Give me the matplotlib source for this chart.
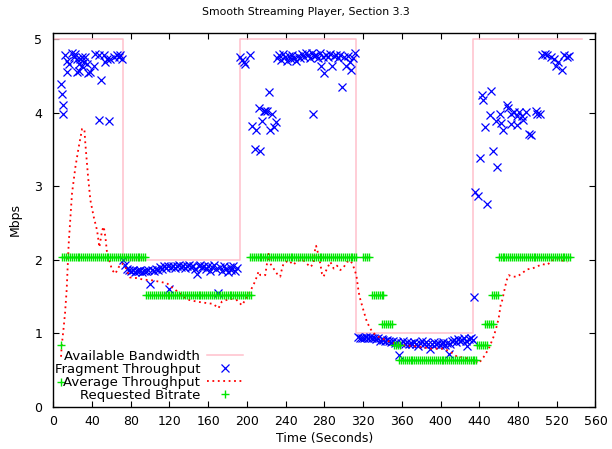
import numpy as np
import matplotlib
matplotlib.use("Agg")
import matplotlib.pyplot as plt

plt.rcParams["font.family"] = ["DejaVu Sans"]

# available bandwidth (step changes), seconds / Mbps
bw_t = [0, 72, 193, 313, 434, 546]
bw_v = [5, 2, 5, 1, 5, 5]

# fragment throughput (blue x)
frag_t = [
    8.3, 9, 9.5, 10.1, 11.8, 14.2, 14.6, 15.9, 19.3, 21, 22.8, 24.5, 24.8, 26.2, 26.6, 28,
    29.7, 30, 31.4, 33.1, 34.8, 35.9, 38.3, 41.8, 43.4, 46.9, 46.9, 49.7, 52.1, 53.8,
    55.6, 57.3, 59, 62.5, 65.9, 67.6, 69.3, 71,
    72, 74, 76, 78, 80, 82, 84, 86, 88, 90, 92, 94, 96, 98, 100, 102, 104, 106, 108,
    110, 112, 114, 116, 118, 120, 122, 124, 126, 128, 130, 132, 134, 136, 138, 140,
    142, 144, 146, 148, 150, 152, 154, 156, 158, 160, 162, 164, 166, 168, 170, 172,
    174, 176, 178, 180, 182, 184, 186, 188, 190,
    193, 195, 196.5, 198.3, 202.7, 205.2, 207.9, 209.6, 212, 213.8, 215.5, 217.2, 219,
    220.7, 222.3, 224.1, 225.9, 227.5, 230.3,
    231, 233, 235, 237, 239, 241, 243, 245, 247, 249, 251, 253, 255, 257, 259, 261, 263,
    265, 267, 268.3, 269, 271, 273, 275, 277, 279, 280, 282, 284, 286, 288, 290, 292,
    294, 296, 298, 300, 302, 304, 306, 308, 310, 312,
    315, 317, 319, 321, 323, 325, 327, 329, 331, 333, 335, 337, 339, 341, 343, 345, 347,
    349, 351, 353, 355, 357, 359, 361, 363, 365, 367, 369, 371, 373, 375, 377, 379, 381,
    383, 385, 387, 389, 391, 393, 395, 397, 399, 401, 403, 405, 407, 408.5, 410, 412,
    414, 416, 418, 420, 422, 424, 426, 427.5, 429, 431, 433, 434.3,
    436, 438.5, 440.6, 442.3, 444, 446.4, 448.2, 450.6, 452.3, 454.4, 456.8, 458.5,
    460.9, 462.6, 464.7, 468.2, 469.4, 472.3, 473, 475.7, 478.5, 479.2, 480.9, 484.4,
    485.4, 487.8, 491.2, 493, 498.1, 499.8, 502.6, 505, 507.5, 510.2, 513.6, 517, 518.8,
    521.2, 525.7, 527.4, 530.9, 532.6,
]
frag_v = [
    4.39, 4.25, 3.99, 4.10, 4.79, 4.71, 4.55, 4.67, 4.81, 4.76, 4.80, 4.73, 4.55, 4.67, 4.57, 4.73,
    4.76, 4.64, 4.69, 4.76, 4.67, 4.54, 4.55, 4.64, 4.80, 4.78, 3.90, 4.45, 4.78, 4.69,
    4.73, 3.89, 4.73, 4.76, 4.78, 4.76, 4.78, 4.73,
    1.99, 1.93, 1.88, 1.86, 1.84, 1.86, 1.83, 1.85, 1.84, 1.86, 1.83, 1.85, 1.84, 1.86,
    1.67, 1.86, 1.84, 1.88, 1.86, 1.90, 1.88, 1.91, 1.89, 1.92, 1.60, 1.90, 1.92, 1.89,
    1.91, 1.93, 1.90, 1.92, 1.89, 1.91, 1.93, 1.90, 1.92, 1.88, 1.81, 1.91, 1.93, 1.90,
    1.92, 1.88, 1.91, 1.85, 1.90, 1.93, 1.87, 1.55, 1.90, 1.84, 1.92, 1.88, 1.83, 1.90,
    1.86, 1.92, 1.84, 1.89,
    4.76, 4.72, 4.69, 4.66, 4.78, 3.82, 3.51, 3.77, 4.07, 3.48, 3.89, 4.02, 4.03,
    4.02, 4.28, 3.77, 3.99, 3.81, 3.87,
    4.74, 4.78, 4.72, 4.80, 4.76, 4.70, 4.77, 4.73, 4.79, 4.75, 4.71, 4.77, 4.74, 4.80,
    4.76, 4.82, 4.78, 4.75, 4.81, 3.98, 4.77, 4.79, 4.74, 4.81, 4.64, 4.76, 4.54, 4.79,
    4.76, 4.80, 4.63, 4.77, 4.79, 4.75, 4.78, 4.35, 4.76, 4.63, 4.77, 4.69, 4.58, 4.74,
    4.81,
    0.95, 0.93, 0.94, 0.93, 0.95, 0.94, 0.95, 0.93, 0.94, 0.92, 0.93, 0.90, 0.92, 0.91,
    0.89, 0.91, 0.90, 0.88, 0.89, 0.87, 0.88, 0.70, 0.87, 0.89, 0.86, 0.88, 0.85, 0.87,
    0.86, 0.88, 0.85, 0.82, 0.87, 0.89, 0.86, 0.88, 0.85, 0.78, 0.86, 0.88, 0.85, 0.87,
    0.84, 0.86, 0.88, 0.84, 0.87, 0.72, 0.86, 0.89, 0.91, 0.88, 0.92, 0.89, 0.91, 0.93,
    0.90, 0.82, 0.92, 0.94, 0.91, 1.49,
    2.92, 2.87, 3.38, 4.24, 4.17, 3.80, 2.76, 3.97, 4.30, 3.48, 3.89, 3.26,
    3.98, 3.86, 3.77, 4.10, 4.06, 3.99, 3.85, 4.01, 3.95, 3.83, 4.01, 3.95,
    3.90, 4.01, 3.71, 3.70, 4.03, 3.99, 3.98, 4.79, 4.80, 4.79, 4.76, 4.73, 4.63,
    4.69, 4.58, 4.79, 4.76, 4.77,
]

# average throughput (red dotted)
avg_t = [
    8, 8.6, 10.4, 12.1, 13.8, 15.9, 19.3, 22.8, 26.2, 29.7, 32.1, 33.1, 35.9, 38.3, 41.8,
    45.2, 47.6, 50.4, 52.1, 53.8, 55.6, 57.9, 60.7, 64.1, 67.6, 71, 74.5, 79, 86, 93,
    102, 110, 117.3, 124, 131, 138, 148.3, 158.6, 165, 170.6, 174.1, 182.7, 189.6, 194.8,
    200, 203.4, 208.6, 212, 213.8, 218.9, 220.7, 222.3, 224, 227.5, 231, 234.4, 236.2,
    237.9, 243, 248.2, 251.7, 258.5, 265.5, 268.9, 270.6, 271.4, 274, 275.7, 277.5,
    279.2, 281, 282.7, 286.2, 289.6, 293, 296.5, 300, 303.4, 306.8, 308.6, 310.2, 313,
    315.4, 317.1, 320.6, 324, 329.3, 334.4, 341.3, 348, 358.5, 375.8, 389.6, 403.3, 410,
    417, 424, 434.3, 439.5, 444.7, 449.8, 455, 458.5, 460.2, 462, 463.7, 466, 468.2,
    470.5, 474, 479.2, 484.4, 489.6, 494.7, 500, 505, 510.2, 513.6, 518.8, 525.7, 530.9,
]
avg_v = [
    0.68, 0.82, 1.04, 1.27, 1.59, 2.22, 2.90, 3.26, 3.53, 3.78, 3.78, 3.58, 3.13, 2.81, 2.58,
    2.40, 2.17, 2.40, 2.45, 2.31, 2.08, 1.99, 1.86, 1.81, 1.90, 1.95, 1.90, 1.76, 1.75, 1.73,
    1.72, 1.70, 1.68, 1.61, 1.54, 1.46, 1.43, 1.41, 1.40, 1.34, 1.43, 1.47, 1.45, 1.38,
    1.49, 1.57, 1.71, 1.84, 1.79, 1.79, 1.95, 2.08, 1.95, 1.88, 1.81, 1.77, 1.88,
    1.95, 1.99, 1.93, 1.99, 1.99, 1.90, 1.95, 2.17, 2.19, 2.06, 1.95, 1.81,
    1.77, 1.83, 1.88, 1.97, 1.88, 1.92, 1.86, 1.90, 1.97, 1.99, 1.95, 1.90, 1.79,
    1.56, 1.46, 1.30, 1.15, 1.02, 0.96, 0.92, 0.88, 0.84, 0.82, 0.79, 0.79, 0.75,
    0.68, 0.67, 0.63, 0.59, 0.68, 0.79, 0.96, 1.12, 1.22, 1.38, 1.45, 1.59, 1.72,
    1.79, 1.77, 1.77, 1.82, 1.87, 1.88, 1.91, 1.94, 1.93, 1.97, 2.02, 1.99, 1.97,
]

# requested bitrate (green +): single early requests, then runs (start, end, level)
req_single_t = [8, 8]
req_single_v = [0.33, 0.84]
req_runs = [
    (9, 96, 2.04), (96, 204, 1.52), (203, 314, 2.04), (320, 326, 2.04),
    (329, 341, 1.52), (340, 351, 1.13), (352, 359, 0.84), (357, 438, 0.63),
    (438, 448, 0.84), (446, 455, 1.13), (453, 460, 1.52), (460, 535, 2.04),
]
FRAG_STEP = 2.0  # seconds per fragment request

req_t = list(req_single_t)
req_v = list(req_single_v)
for a, b, lvl in req_runs:
    ts = np.arange(a, b + 0.01, FRAG_STEP)
    req_t += list(ts)
    req_v += [lvl] * len(ts)

fig = plt.figure(figsize=(6.12, 4.49), dpi=100)
ax = fig.add_axes([0.0871, 0.0942, 0.973 - 0.0871, 0.9272 - 0.0942])

ax.plot(bw_t, bw_v, drawstyle="steps-post", color="#ffc0cb", lw=1.1,
        label="Available Bandwidth")
ax.plot(frag_t, frag_v, ls="none", marker="x", ms=5.5, mew=0.9, color="#0000ff",
        label="Fragment Throughput")
ax.plot(avg_t, avg_v, ls=(0, (1, 2)), lw=1.3, color="#ff0000",
        label="Average Throughput")
ax.plot(req_t, req_v, ls="none", marker="+", ms=6, mew=1.0, color="#00e600",
        label="Requested Bitrate")

ax.set_xlim(0, 560)
ax.set_ylim(0, 5.09)
ax.set_xticks(np.arange(0, 561, 40))
ax.set_yticks(np.arange(0, 6, 1))
ax.tick_params(direction="in", top=True, right=True, length=4, width=0.8,
               labelsize=9)
ax.tick_params(axis="x", pad=6)
ax.tick_params(axis="y", pad=8)
for s in ax.spines.values():
    s.set_linewidth(1.0)

ax.set_xlabel("Time (Seconds)", fontsize=9, labelpad=3)
ax.set_ylabel("Mbps", fontsize=9, labelpad=9)
# gnuplot centres the title on the whole canvas
fig.text(0.5, 1 - 12 / 449, "Smooth Streaming Player, Section 3.3", fontsize=7.8,
         ha="center", va="center")

leg = ax.legend(loc="lower right", bbox_to_anchor=(0.367, -0.012), frameon=False,
                markerfirst=False, fontsize=9.5, handlelength=2.7, handletextpad=0.55,
                labelspacing=0.0, numpoints=1, borderpad=0.2)
for col in leg._legend_handle_box.get_children():
    col.align = "right"

fig.savefig("out.png", dpi=100)
